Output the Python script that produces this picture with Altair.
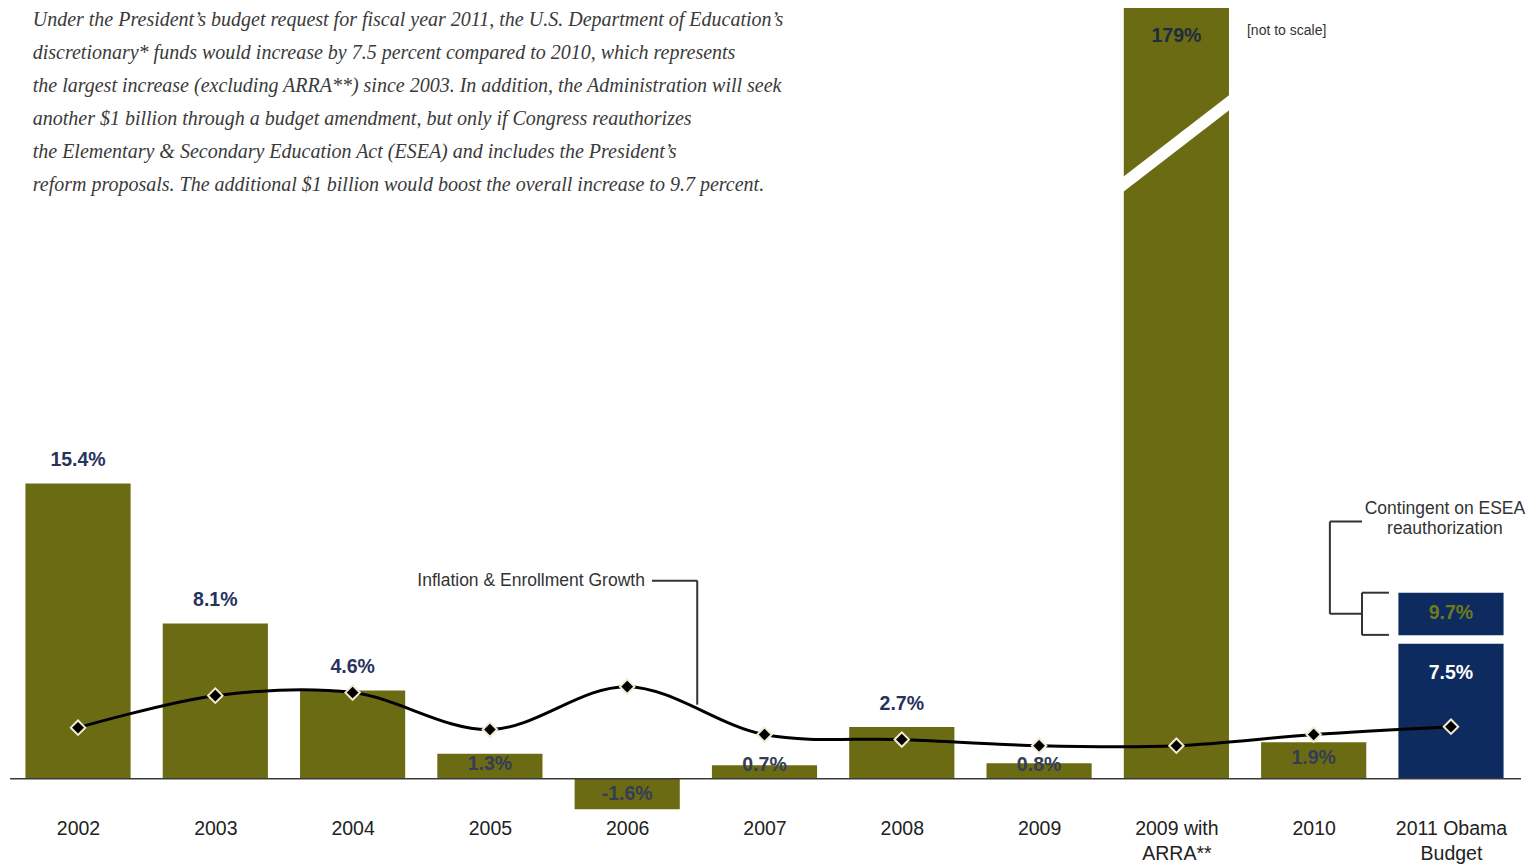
import json
import altair as alt
import pandas as pd

# ---------------- data ----------------
categories = ["2002", "2003", "2004", "2005", "2006", "2007", "2008", "2009",
              "2009 with\nARRA**", "2010", "2011 Obama\nBudget"]
increase = [15.4, 8.1, 4.6, 1.3, -1.6, 0.7, 2.7, 0.8, 179, 1.9, 7.5]
inflation_enrollment = [2.66, 4.33, 4.49, 2.56, 4.8, 2.3, 2.04, 1.72, 1.72, 2.3, 2.71]
contingent_total = 9.7
paragraph = [
    "Under the President\u2019s budget request for fiscal year 2011, the U.S. Department of Education\u2019s",
    "discretionary* funds would increase by 7.5 percent compared to 2010, which represents",
    "the largest increase (excluding ARRA**) since 2003.  In addition, the Administration will seek",
    "another $1 billion through a budget amendment, but only if Congress reauthorizes",
    "the Elementary & Secondary Education Act (ESEA) and includes the President\u2019s",
    "reform proposals.  The additional $1 billion would boost the overall increase to 9.7 percent.",
]

OLIVE = "#6b6b13"
NAVY = "#0d2b5e"
LABEL_NAVY = "#27335f"
YMIN, YMAX = -2.0, 40.2
HALF = 0.383

n = len(categories)
df = pd.DataFrame({
    "idx": list(range(n)),
    "cat": categories,
    "value": increase,
    "infl": inflation_enrollment,
})
df["label"] = [f"{v:g}%" for v in increase]
df["color"] = [NAVY if c.startswith("2011") else OLIVE for c in categories]
df["x0"] = df["idx"] - HALF
df["x1"] = df["idx"] + HALF
df["start"] = 0.0

last = n - 1
bars = pd.concat([
    df[["x0", "x1", "start", "value", "color"]],
    pd.DataFrame({"x0": [last - HALF], "x1": [last + HALF], "start": [increase[last]],
                  "value": [contingent_total], "color": [NAVY]}),
], ignore_index=True)

xscale = alt.Scale(domain=[-0.51, 10.51], nice=False, zero=False)
yscale = alt.Scale(domain=[YMIN, YMAX], nice=False, zero=False, clamp=True)

arr = "[" + ",".join(json.dumps(c) for c in categories) + "]"
xaxis = alt.Axis(values=list(range(n)), labelExpr=f"split({arr}[datum.value], '\\n')",
                 domain=False, ticks=False, tickSize=0, grid=False, title=None,
                 labelFont="Liberation Sans", labelFontSize=19.5, labelColor="#222222",
                 labelLineHeight=25, labelBaseline="top", labelPadding=2,
                 labelFlush=False, labelOverlap=False)

base_x = alt.X("x0:Q", scale=xscale, axis=xaxis)

bar_layer = alt.Chart(bars).mark_rect().encode(
    x=base_x, x2="x1:Q",
    y=alt.Y("start:Q", scale=yscale, axis=None), y2="value:Q",
    color=alt.Color("color:N", scale=None),
)

# white diagonal break on the not-to-scale bar
arra = categories.index("2009 with\nARRA**")
brk = pd.DataFrame({"x": [arra - 0.45, arra + 0.45], "y": [30.66, 35.62]})
break_layer = alt.Chart(brk).mark_line(color="white", strokeWidth=12, strokeCap="butt").encode(
    x=alt.X("x:Q", scale=xscale), y=alt.Y("y:Q", scale=yscale))

# white gap between 7.5% bar and the 9.7% block
gap = pd.DataFrame({"x": [last - HALF - 0.01], "x2": [last + HALF + 0.01], "y": [increase[last]]})
gap_layer = alt.Chart(gap).mark_rule(color="white", strokeWidth=8.5, yOffset=4.5).encode(
    x=alt.X("x:Q", scale=xscale), x2="x2:Q", y=alt.Y("y:Q", scale=yscale))

baseline = alt.Chart(pd.DataFrame({"x": [-0.495], "x2": [10.51], "y": [0]})).mark_rule(
    color="#3a3a3a", strokeWidth=1.5).encode(
    x=alt.X("x:Q", scale=xscale), x2="x2:Q", y=alt.Y("y:Q", scale=yscale))

txt_common = dict(font="Liberation Sans", fontWeight="bold", fontSize=19.5, baseline="middle", align="center")

above = df[(df["value"] > 2.5) & (df["value"] < 100) & (~df["cat"].str.startswith("2011"))]
above_layer = alt.Chart(above).mark_text(color=LABEL_NAVY, dy=-23, **txt_common).encode(
    x=alt.X("idx:Q", scale=xscale), y=alt.Y("value:Q", scale=yscale), text="label:N")

inside = df[(df["value"] <= 2.5)].copy()
inside["ly"] = [v / 2 if v < 0 else max(v * 0.58, 0.7) for v in inside["value"]]
inside_layer = alt.Chart(inside).mark_text(color="#353d55", **txt_common).encode(
    x=alt.X("idx:Q", scale=xscale), y=alt.Y("ly:Q", scale=yscale), text="label:N")

top = df[df["value"] >= 100]
top_layer = alt.Chart(top).mark_text(color="#1e2b40", dy=28, **txt_common).encode(
    x=alt.X("idx:Q", scale=xscale), y=alt.Y("value:Q", scale=yscale), text="label:N")

obama = df[df["cat"].str.startswith("2011")]
obama_layer = alt.Chart(obama).mark_text(color="white", dy=38, **txt_common).encode(
    x=alt.X("idx:Q", scale=xscale), y=alt.Y("value:Q", scale=yscale), text="label:N")

cont = pd.DataFrame({"idx": [last], "v": [contingent_total], "label": [f"{contingent_total:g}%"]})
cont_layer = alt.Chart(cont).mark_text(color="#6e7a1c", dy=20, **txt_common).encode(
    x=alt.X("idx:Q", scale=xscale), y=alt.Y("v:Q", scale=yscale), text="label:N")

line_layer = alt.Chart(df).mark_line(color="black", strokeWidth=3, interpolate="catmull-rom").encode(
    x=alt.X("idx:Q", scale=xscale), y=alt.Y("infl:Q", scale=yscale))
pts_layer = alt.Chart(df).mark_point(shape="diamond", fill="black", stroke="#f1ebd3",
                                     strokeWidth=2, size=210, opacity=1, fillOpacity=1).encode(
    x=alt.X("idx:Q", scale=xscale), y=alt.Y("infl:Q", scale=yscale))

# annotation connectors
segs = pd.DataFrame({
    "x":  [4.18, 4.51, 9.118, 9.118, 9.118, 9.352, 9.352, 9.352],
    "x2": [4.51, 4.51, 9.352, 9.118, 9.352, 9.352, 9.548, 9.548],
    "y":  [10.33, 10.33, 13.41, 13.41, 8.6, 9.7, 9.7, 7.5],
    "y2": [10.33, 3.86, 13.41, 8.6, 8.6, 7.5, 9.7, 7.5],
})
seg_layer = alt.Chart(segs).mark_rule(color="#333333", strokeWidth=2).encode(
    x=alt.X("x:Q", scale=xscale), x2="x2:Q", y=alt.Y("y:Q", scale=yscale), y2="y2:Q")

notes = pd.DataFrame({
    "x": [4.18, 9.956, 8.514],
    "y": [10.33, 14.07, 38.99],
    "t": ["Inflation & Enrollment Growth", "Contingent on ESEA\nreauthorization", "[not to scale]"],
})
note_r = alt.Chart(notes.iloc[[0]]).mark_text(font="Liberation Sans", fontSize=17.5, color="#333333",
                                              align="right", baseline="middle", dx=-7).encode(
    x=alt.X("x:Q", scale=xscale), y=alt.Y("y:Q", scale=yscale), text="t:N")
note_c = alt.Chart(notes.iloc[[1]]).mark_text(font="Liberation Sans", fontSize=17.5, color="#333333",
                                              align="center", baseline="middle", lineBreak="\n",
                                              lineHeight=20).encode(
    x=alt.X("x:Q", scale=xscale), y=alt.Y("y:Q", scale=yscale), text="t:N")
note_l = alt.Chart(notes.iloc[[2]]).mark_text(font="Liberation Sans", fontSize=14, color="#333333",
                                              align="left", baseline="middle").encode(
    x=alt.X("x:Q", scale=xscale), y=alt.Y("y:Q", scale=yscale), text="t:N")

para = pd.DataFrame({"x": [-0.33], "y": [YMAX], "t": ["\n".join(paragraph)]})
para_layer = alt.Chart(para).mark_text(font="Liberation Serif", fontStyle="italic", fontSize=20,
                                       color="#3a3a3a", align="left", baseline="top",
                                       lineBreak="\n", lineHeight=33, dy=2).encode(
    x=alt.X("x:Q", scale=xscale), y=alt.Y("y:Q", scale=yscale), text="t:N")

chart = alt.layer(
    bar_layer, break_layer, gap_layer, baseline,
    above_layer, inside_layer, top_layer, obama_layer, cont_layer,
    line_layer, pts_layer, seg_layer, note_r, note_c, note_l, para_layer,
).properties(
    width=1513, height=809,
    padding={"left": 0, "top": 0, "right": 10, "bottom": 48},
    autosize=alt.AutoSizeParams(type="none"),
).configure(background="white").configure_view(stroke=None, strokeWidth=0)

chart.save("out.html", embed_options={"renderer": "svg", "actions": False})
